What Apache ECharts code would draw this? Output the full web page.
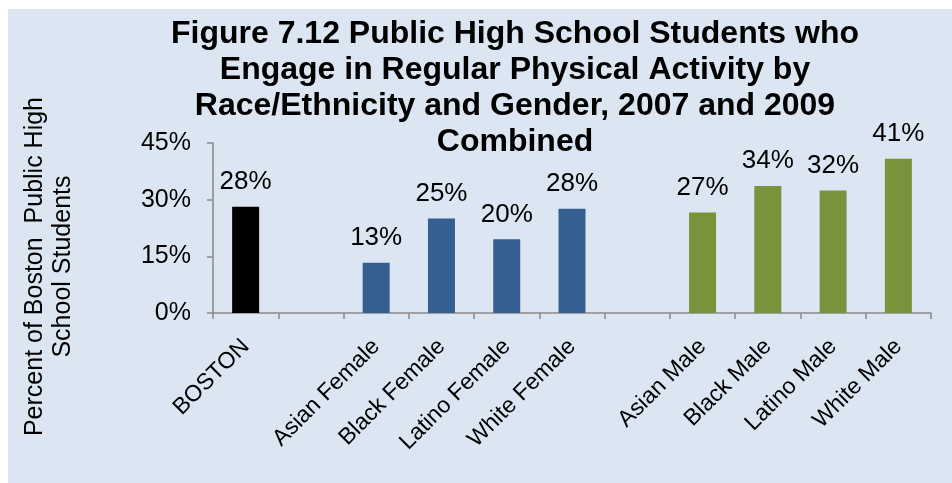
<!DOCTYPE html>
<html>
<head>
<meta charset="utf-8">
<script src="https://cdn.jsdelivr.net/npm/echarts@6/dist/echarts.min.js"></script>
<style>
html,body{margin:0;padding:0;background:#ffffff;width:952px;height:483px;overflow:hidden;}
#chart{position:absolute;left:8px;top:9px;width:944px;height:474px;}
</style>
</head>
<body>
<div id="chart"></div>
<script>
// Data
const categories = ['BOSTON', '', 'Asian Female', 'Black Female', 'Latino Female', 'White Female', '', 'Asian Male', 'Black Male', 'Latino Male', 'White Male'];
const values = [28.1, null, 13.3, 25.0, 19.5, 27.6, null, 26.6, 33.6, 32.4, 40.8];
const groups = ['total', null, 'female', 'female', 'female', 'female', null, 'male', 'male', 'male', 'male'];
const yTicks = [0, 15, 30, 45];
const titleText = 'Figure 7.12 Public High School Students who\nEngage in Regular Physical Activity by\nRace/Ethnicity and Gender, 2007 and 2009\nCombined';
const yName = 'Percent of Boston  Public High\nSchool Students';

const groupColors = { total: '#000000', female: '#365f91', male: '#77933c' };
const FONT = 'Liberation Sans, Arial, sans-serif';

const chart = echarts.init(document.getElementById('chart'));
const seriesData = values.map((v, i) => v === null ? '-' : ({ value: v, itemStyle: { color: groupColors[groups[i]] } }));

chart.setOption({
  backgroundColor: '#dce6f2',
  animation: false,
  title: {
    text: titleText,
    left: 507,
    top: 7,
    textAlign: 'center',
    padding: 0,
    textStyle: { fontFamily: FONT, fontSize: 32, fontWeight: 'bold', color: '#000', lineHeight: 36 }
  },
  graphic: [{
    type: 'text',
    left: 13,
    top: 88,
    rotation: Math.PI / 2,
    style: {
      text: yName,
      font: '25px ' + FONT,
      fill: '#000',
      textAlign: 'center',
      lineHeight: 28
    }
  }],
  grid: { left: 205, right: 21, top: 134, height: 170, containLabel: false },
  xAxis: {
    type: 'category',
    data: categories,
    axisLine: { lineStyle: { color: '#898989', width: 1.5 } },
    axisTick: { show: true, length: 6, lineStyle: { color: '#898989', width: 1.5 } },
    axisLabel: { interval: 0, rotate: 45, margin: 30, fontFamily: FONT, fontSize: 23, color: '#000' }
  },
  yAxis: {
    type: 'value',
    min: yTicks[0],
    max: yTicks[yTicks.length - 1],
    interval: 15,
    splitLine: { show: false },
    axisLine: { show: true, lineStyle: { color: '#898989', width: 1.5 } },
    axisTick: { show: true, length: 6, lineStyle: { color: '#898989', width: 1.5 } },
    axisLabel: { margin: 22, fontFamily: FONT, fontSize: 25, color: '#000', formatter: v => v + '%' }
  },
  series: [{
    type: 'bar',
    data: seriesData,
    barWidth: 27,
    label: {
      show: true,
      position: 'top',
      distance: 12,
      fontFamily: FONT,
      fontSize: 26,
      color: '#000',
      formatter: p => Math.round(p.value) + '%'
    }
  }]
});
</script>
</body>
</html>
